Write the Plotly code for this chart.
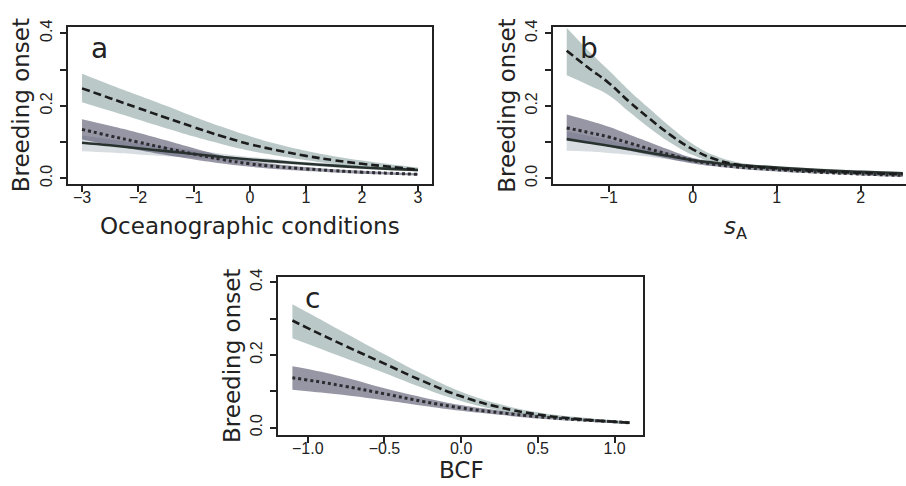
import plotly.graph_objects as go

W, H = 906, 486

# ---------------- data ----------------
# Panel a: Oceanographic conditions
xa = [-3, -2.5, -2, -1.5, -1, -0.5, 0, 0.5, 1, 1.5, 2, 2.5, 3]
a_dash = [0.248, 0.221, 0.194, 0.167, 0.141, 0.116, 0.094, 0.077, 0.062, 0.050, 0.040, 0.032, 0.024]
a_dash_hi = [0.288, 0.258, 0.229, 0.200, 0.170, 0.142, 0.116, 0.094, 0.076, 0.061, 0.049, 0.039, 0.030]
a_dash_lo = [0.210, 0.186, 0.162, 0.138, 0.115, 0.094, 0.076, 0.062, 0.050, 0.040, 0.032, 0.025, 0.019]
a_dot = [0.135, 0.117, 0.100, 0.083, 0.067, 0.052, 0.040, 0.032, 0.026, 0.021, 0.017, 0.014, 0.011]
a_dot_hi = [0.163, 0.145, 0.126, 0.105, 0.083, 0.063, 0.048, 0.038, 0.031, 0.025, 0.021, 0.017, 0.014]
a_dot_lo = [0.107, 0.092, 0.078, 0.064, 0.052, 0.041, 0.032, 0.025, 0.020, 0.016, 0.012, 0.010, 0.008]
a_sol = [0.098, 0.091, 0.083, 0.075, 0.067, 0.059, 0.052, 0.046, 0.040, 0.035, 0.030, 0.026, 0.023]
a_sol_hi = [0.118, 0.108, 0.097, 0.087, 0.077, 0.068, 0.059, 0.052, 0.045, 0.040, 0.034, 0.030, 0.027]
a_sol_lo = [0.075, 0.071, 0.066, 0.061, 0.056, 0.050, 0.045, 0.040, 0.035, 0.030, 0.026, 0.022, 0.018]

# Panel b: s_A
xb = [-1.5, -1.25, -1.0, -0.75, -0.5, -0.25, 0.0, 0.25, 0.5, 1.0, 1.5, 2.0, 2.5]
b_dash = [0.352, 0.306, 0.263, 0.210, 0.162, 0.117, 0.080, 0.054, 0.039, 0.027, 0.020, 0.015, 0.011]
b_dash_hi = [0.415, 0.354, 0.298, 0.241, 0.189, 0.139, 0.095, 0.064, 0.046, 0.032, 0.024, 0.019, 0.015]
b_dash_lo = [0.284, 0.258, 0.229, 0.182, 0.136, 0.096, 0.064, 0.044, 0.031, 0.021, 0.015, 0.010, 0.007]
b_dot = [0.139, 0.127, 0.114, 0.097, 0.080, 0.064, 0.049, 0.039, 0.032, 0.024, 0.017, 0.012, 0.008]
b_dot_hi = [0.176, 0.160, 0.142, 0.120, 0.098, 0.076, 0.056, 0.045, 0.037, 0.028, 0.021, 0.016, 0.012]
b_dot_lo = [0.107, 0.098, 0.088, 0.076, 0.064, 0.052, 0.041, 0.033, 0.027, 0.019, 0.013, 0.008, 0.004]
b_sol = [0.108, 0.099, 0.090, 0.080, 0.070, 0.060, 0.050, 0.043, 0.037, 0.030, 0.023, 0.018, 0.014]
b_sol_hi = [0.130, 0.118, 0.106, 0.093, 0.081, 0.069, 0.057, 0.049, 0.042, 0.034, 0.027, 0.022, 0.018]
b_sol_lo = [0.076, 0.074, 0.070, 0.065, 0.059, 0.051, 0.043, 0.037, 0.032, 0.025, 0.019, 0.014, 0.010]

# Panel c: BCF
xc = [-1.1, -1.0, -0.75, -0.5, -0.25, 0.0, 0.25, 0.5, 0.75, 1.0, 1.1]
c_dash = [0.295, 0.274, 0.224, 0.176, 0.128, 0.086, 0.056, 0.036, 0.024, 0.016, 0.0135]
c_dash_hi = [0.340, 0.317, 0.259, 0.202, 0.147, 0.099, 0.065, 0.042, 0.029, 0.020, 0.018]
c_dash_lo = [0.246, 0.230, 0.190, 0.150, 0.109, 0.073, 0.047, 0.030, 0.019, 0.012, 0.009]
c_dot = [0.137, 0.131, 0.113, 0.093, 0.072, 0.054, 0.041, 0.030, 0.022, 0.016, 0.013]
c_dot_hi = [0.169, 0.161, 0.137, 0.108, 0.083, 0.062, 0.047, 0.035, 0.026, 0.019, 0.016]
c_dot_lo = [0.104, 0.100, 0.089, 0.075, 0.060, 0.046, 0.035, 0.025, 0.018, 0.012, 0.010]

y_tickvals = [0.0, 0.2, 0.4]
y_ticktext = ["0.0", "0.2", "0.4"]
y_minor_tickvals = [0.1, 0.3]
xa_tickvals = [-3, -2, -1, 0, 1, 2, 3]
xa_ticktext = ["\u22123", "\u22122", "\u22121", "0", "1", "2", "3"]
xb_tickvals = [-1, 0, 1, 2]
xb_ticktext = ["\u22121", "0", "1", "2"]
xc_tickvals = [-1.0, -0.5, 0.0, 0.5, 1.0]
xc_ticktext = ["\u22121.0", "\u22120.5", "0.0", "0.5", "1.0"]

# ---------------- styles ----------------
DASH_BAND = "rgba(140,165,163,0.6)"
DOT_BAND = "rgba(80,80,105,0.6)"
SOL_BAND = "rgba(190,198,205,0.6)"
SM = 1.3
DASH_LINE = dict(color="#1c1c1c", width=2.6, dash="8px,4px", shape="spline", smoothing=SM)
DOT_LINE = dict(color="#2b2b30", width=3, dash="3px,3px", shape="spline", smoothing=SM)
SOL_LINE = dict(color="#28332f", width=2.6, shape="spline", smoothing=SM)
AX = "#222222"

fig = go.Figure()


def band(x, lo, hi, color, xr, yr):
    fig.add_trace(go.Scatter(x=x, y=lo, mode="lines",
                             line=dict(width=0, shape="spline", smoothing=SM),
                             xaxis=xr, yaxis=yr, showlegend=False, hoverinfo="skip"))
    fig.add_trace(go.Scatter(x=x, y=hi, mode="lines",
                             line=dict(width=0, shape="spline", smoothing=SM),
                             fill="tonexty", fillcolor=color, xaxis=xr, yaxis=yr,
                             showlegend=False, hoverinfo="skip"))


def line(x, y, style, xr, yr):
    fig.add_trace(go.Scatter(x=x, y=y, mode="lines", line=style, xaxis=xr, yaxis=yr,
                             showlegend=False))


# panel a
band(xa, a_sol_lo, a_sol_hi, SOL_BAND, "x", "y")
band(xa, a_dot_lo, a_dot_hi, DOT_BAND, "x", "y")
band(xa, a_dash_lo, a_dash_hi, DASH_BAND, "x", "y")
line(xa, a_sol, SOL_LINE, "x", "y")
line(xa, a_dot, DOT_LINE, "x", "y")
line(xa, a_dash, DASH_LINE, "x", "y")
# panel b
band(xb, b_sol_lo, b_sol_hi, SOL_BAND, "x2", "y2")
band(xb, b_dot_lo, b_dot_hi, DOT_BAND, "x2", "y2")
band(xb, b_dash_lo, b_dash_hi, DASH_BAND, "x2", "y2")
line(xb, b_sol, SOL_LINE, "x2", "y2")
line(xb, b_dot, DOT_LINE, "x2", "y2")
line(xb, b_dash, DASH_LINE, "x2", "y2")
# panel c
band(xc, c_dot_lo, c_dot_hi, DOT_BAND, "x3", "y3")
band(xc, c_dash_lo, c_dash_hi, DASH_BAND, "x3", "y3")
line(xc, c_dot, DOT_LINE, "x3", "y3")
line(xc, c_dash, DASH_LINE, "x3", "y3")


def px_x(p):
    return p / W


def px_y(p):
    return 1 - p / H


tickfont = dict(family="Liberation Sans, Arial, sans-serif", size=16, color=AX)


def xaxis(dom, rng, tv, tt, anchor):
    return dict(domain=dom, range=rng, anchor=anchor, showgrid=False, zeroline=False,
                showline=True, linecolor=AX, linewidth=2, mirror=True,
                ticks="outside", ticklen=6, tickwidth=1.5, tickcolor=AX,
                tickvals=tv, ticktext=tt, tickfont=tickfont, ticklabelstandoff=-8)


def yaxis(dom, rng, anchor, mirror=True):
    return dict(domain=dom, range=rng, anchor=anchor, showgrid=False, zeroline=False,
                showline=True, linecolor=AX, linewidth=2, mirror=mirror,
                ticks="outside", ticklen=6, tickwidth=1.5, tickcolor=AX,
                tickvals=y_tickvals, ticktext=y_ticktext, tickangle=-90,
                minor=dict(tickvals=y_minor_tickvals, ticks="outside", ticklen=6,
                           tickwidth=1.5, tickcolor=AX, showgrid=False),
                tickfont=tickfont, ticklabelstandoff=2)


fig.update_layout(
    width=W, height=H, margin=dict(l=0, r=0, t=0, b=0),
    paper_bgcolor="white", plot_bgcolor="white",
    xaxis=xaxis([px_x(68), px_x(432)], [-3.25, 3.25], xa_tickvals, xa_ticktext, "y"),
    yaxis=yaxis([px_y(180), px_y(19.5)], [-0.0154, 0.417], "x"),
    xaxis2=xaxis([px_x(553), 1.0], [-1.663, 2.538], xb_tickvals, xb_ticktext, "y2"),
    yaxis2=yaxis([px_y(180), px_y(19.5)], [-0.0154, 0.417], "x2", mirror=False),
    xaxis3=xaxis([px_x(278), px_x(643)], [-1.194, 1.185], xc_tickvals, xc_ticktext, "y3"),
    yaxis3=yaxis([px_y(437), px_y(275)], [-0.0208, 0.4154], "x3"),
)

titlefont = dict(family="DejaVu Sans, sans-serif", size=23, color=AX)
letterfont = dict(family="DejaVu Sans, sans-serif", size=28, color=AX)

ann = []
# x titles
ann.append(dict(text="Oceanographic conditions", x=px_x(250), y=px_y(223), font=titlefont))
ann.append(dict(text="<i>s</i><sub>A</sub>", x=px_x(735), y=px_y(225), font=titlefont))
ann.append(dict(text="BCF", x=px_x(461), y=px_y(473), font=titlefont))
# y titles
for xp, yp in [(20.6, 100), (507, 100), (232, 356)]:
    ann.append(dict(text="Breeding onset", x=px_x(xp), y=px_y(yp), textangle=-90, font=titlefont))
# panel letters
ann.append(dict(text="a", x=px_x(99.5), y=px_y(41.5), font=letterfont))
ann.append(dict(text="b", x=px_x(589), y=px_y(41.5), font=letterfont))
ann.append(dict(text="c", x=px_x(312.5), y=px_y(297.5), font=letterfont))
for a in ann:
    a.update(xref="paper", yref="paper", showarrow=False, xanchor="center", yanchor="middle")
fig.update_layout(annotations=ann)

fig.write_html("out.html", config={"displayModeBar": False},
               post_script="document.body.style.margin='0';document.body.style.padding='0';")
